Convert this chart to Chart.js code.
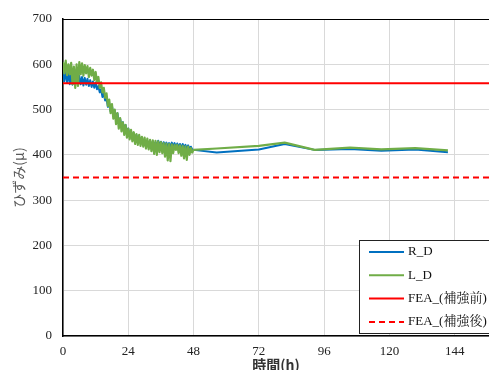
<!DOCTYPE html>
<html>
<head>
<meta charset="utf-8">
<script src="https://cdn.jsdelivr.net/npm/chart.js@4.4.1/dist/chart.umd.min.js"></script>
<style>
  html, body { margin: 0; padding: 0; background: #fff; }
  #wrap { width: 489px; height: 370px; }
</style>
</head>
<body>
<div id="wrap"><canvas id="mychart" width="489" height="370"></canvas></div>
<script>
// time (h) for each reading
let hours = [0, 0.5, 1, 1.5, 2, 2.5, 3, 3.5, 4, 4.5, 5, 5.5, 6, 6.5, 7, 7.5, 8, 8.5, 9, 9.5,
  10, 10.5, 11, 11.5, 12, 12.5, 13, 13.5, 14, 14.5, 15, 15.5, 16, 16.5, 17, 17.5, 18, 18.5, 19, 19.5,
  20, 20.5, 21, 21.5, 22, 22.5, 23, 23.5, 24, 24.5, 25, 25.5, 26, 26.5, 27, 27.5, 28, 28.5, 29, 29.5,
  30, 30.5, 31, 31.5, 32, 32.5, 33, 33.5, 34, 34.5, 35, 35.5, 36, 36.5, 37, 37.5, 38, 38.5, 39, 39.5,
  40, 40.5, 41, 41.5, 42, 42.5, 43, 43.5, 44, 44.5, 45, 45.5, 46, 46.5, 47, 47.5, 48,
  56.5, 72, 81.5, 92.5, 105.5, 117, 129.5, 141.5];

let rdValues = [590, 562, 586, 560, 583, 556, 580, 555, 576, 558, 577, 554, 574, 556, 572, 553, 570, 555, 568, 552,
  565, 550, 562, 548, 560, 545, 552, 538, 545, 528, 535, 520, 525, 506, 514, 496, 508, 488, 498, 480,
  492, 472, 480, 464, 472, 456, 466, 448, 458, 442, 452, 438, 448, 436, 444, 433, 440, 430, 436, 428,
  432, 420, 430, 418, 429, 420, 430, 419, 428, 418, 431, 420, 429, 417, 428, 419, 427, 418, 426, 417,
  427, 418, 426, 416, 425, 417, 424, 415, 424, 416, 422, 414, 421, 413, 418, 412, 411,
  405, 412, 424, 411, 413, 409, 412, 406];

let ldValues = [605, 580, 608, 576, 600, 578, 603, 556, 595, 548, 600, 552, 605, 578, 602, 575, 598, 580, 596, 572,
  592, 575, 588, 565, 583, 560, 572, 548, 560, 538, 548, 526, 536, 508, 522, 492, 512, 480, 500, 468,
  492, 458, 481, 452, 472, 444, 466, 438, 458, 434, 455, 430, 450, 424, 446, 422, 444, 420, 440, 418,
  438, 414, 436, 412, 433, 408, 432, 402, 431, 400, 430, 406, 428, 404, 426, 396, 425, 388, 424, 386,
  423, 404, 422, 411, 422, 404, 421, 398, 420, 392, 419, 389, 418, 400, 415, 405, 411,
  414, 420, 427, 411, 416, 412, 415, 410];

let feaBefore = 558;
let feaAfter = 350;
let xTicks = [0, 24, 48, 72, 96, 120, 144];
let xMax = 156.6;

let serif = "'Liberation Serif', 'Noto Serif CJK JP', 'Noto Sans CJK JP', serif";

function toPoints(xs, ys) {
  return xs.map((h, i) => ({ x: h, y: ys[i] }));
}

let legendBox = {
  id: 'legendBox',
  afterDraw(chart) {
    let c = chart.ctx;
    let area = chart.chartArea;
    // top border of the plot
    c.save();
    c.strokeStyle = '#000';
    c.lineWidth = 1;
    c.beginPath();
    c.moveTo(area.left, area.top + 0.5);
    c.lineTo(area.right, area.top + 0.5);
    c.stroke();

    let x0 = 359.5, y0 = 240.5, w = 140, h = 93;
    c.fillStyle = '#fff';
    c.fillRect(x0, y0, w, h);
    c.strokeStyle = '#222';
    c.strokeRect(x0, y0, w, h);
    c.font = '13px ' + serif;
    c.textBaseline = 'middle';
    chart.data.datasets.forEach((ds, i) => {
      let y = 252 + i * 23.3;
      c.strokeStyle = ds.borderColor;
      c.lineWidth = 2;
      c.setLineDash(ds.borderDash || []);
      c.beginPath();
      c.moveTo(369, y);
      c.lineTo(404, y);
      c.stroke();
      c.setLineDash([]);
      c.fillStyle = '#111';
      c.fillText(ds.label, 408, y);
    });
    c.restore();
  }
};

let ctx = document.getElementById('mychart').getContext('2d');
let myChart = new Chart(ctx, {
  type: 'line',
  data: {
    datasets: [
      {
        label: 'R_D',
        data: toPoints(hours, rdValues),
        borderColor: '#0070c0',
        borderWidth: 2,
        borderJoinStyle: 'round',
        pointRadius: 0,
        order: 3
      },
      {
        label: 'L_D',
        data: toPoints(hours, ldValues),
        borderColor: '#70ad47',
        borderWidth: 2.2,
        borderJoinStyle: 'round',
        pointRadius: 0,
        order: 2
      },
      {
        label: 'FEA_(補強前)',
        data: [{ x: 0, y: feaBefore }, { x: xMax, y: feaBefore }],
        borderColor: '#ff0000',
        borderWidth: 2,
        pointRadius: 0,
        order: 0
      },
      {
        label: 'FEA_(補強後)',
        data: [{ x: 0, y: feaAfter }, { x: xMax, y: feaAfter }],
        borderColor: '#ff0000',
        borderDash: [6, 4],
        borderWidth: 2,
        pointRadius: 0,
        order: 1
      }
    ]
  },
  options: {
    responsive: false,
    animation: false,
    layout: { padding: { left: 0, top: 19, right: 0, bottom: 0 } },
    plugins: {
      legend: { display: false },
      tooltip: { enabled: false }
    },
    scales: {
      x: {
        type: 'linear',
        min: 0,
        max: xMax,
        afterBuildTicks(scale) {
          scale.ticks = xTicks.map(v => ({ value: v }));
        },
        afterFit(scale) { scale.height = 34; },
        grid: { color: '#d9d9d9', lineWidth: 1, drawTicks: false },
        border: { color: '#000', width: 1.5 },
        ticks: { padding: 8, color: '#222', font: { family: serif, size: 13 }, maxRotation: 0 },
        title: {
          display: true,
          text: '時間(h)',
          color: '#333',
          padding: { top: 0, bottom: -2 },
          font: { family: "'Noto Sans CJK JP', sans-serif", size: 14, weight: 'bold', lineHeight: 1 }
        }
      },
      y: {
        min: 0,
        max: 700,
        afterFit(scale) { scale.width = 63; },
        grid: { color: '#d9d9d9', lineWidth: 1, drawTicks: false },
        border: { color: '#000', width: 1.5 },
        ticks: { stepSize: 100, padding: 11, color: '#222', font: { family: serif, size: 13 } },
        title: {
          display: true,
          text: 'ひずみ(μ)',
          color: '#595959',
          padding: { top: 12, bottom: 0 },
          font: { family: "'Noto Sans CJK JP', sans-serif", size: 14, lineHeight: 1 }
        }
      }
    }
  },
  plugins: [legendBox]
});
</script>
</body>
</html>
